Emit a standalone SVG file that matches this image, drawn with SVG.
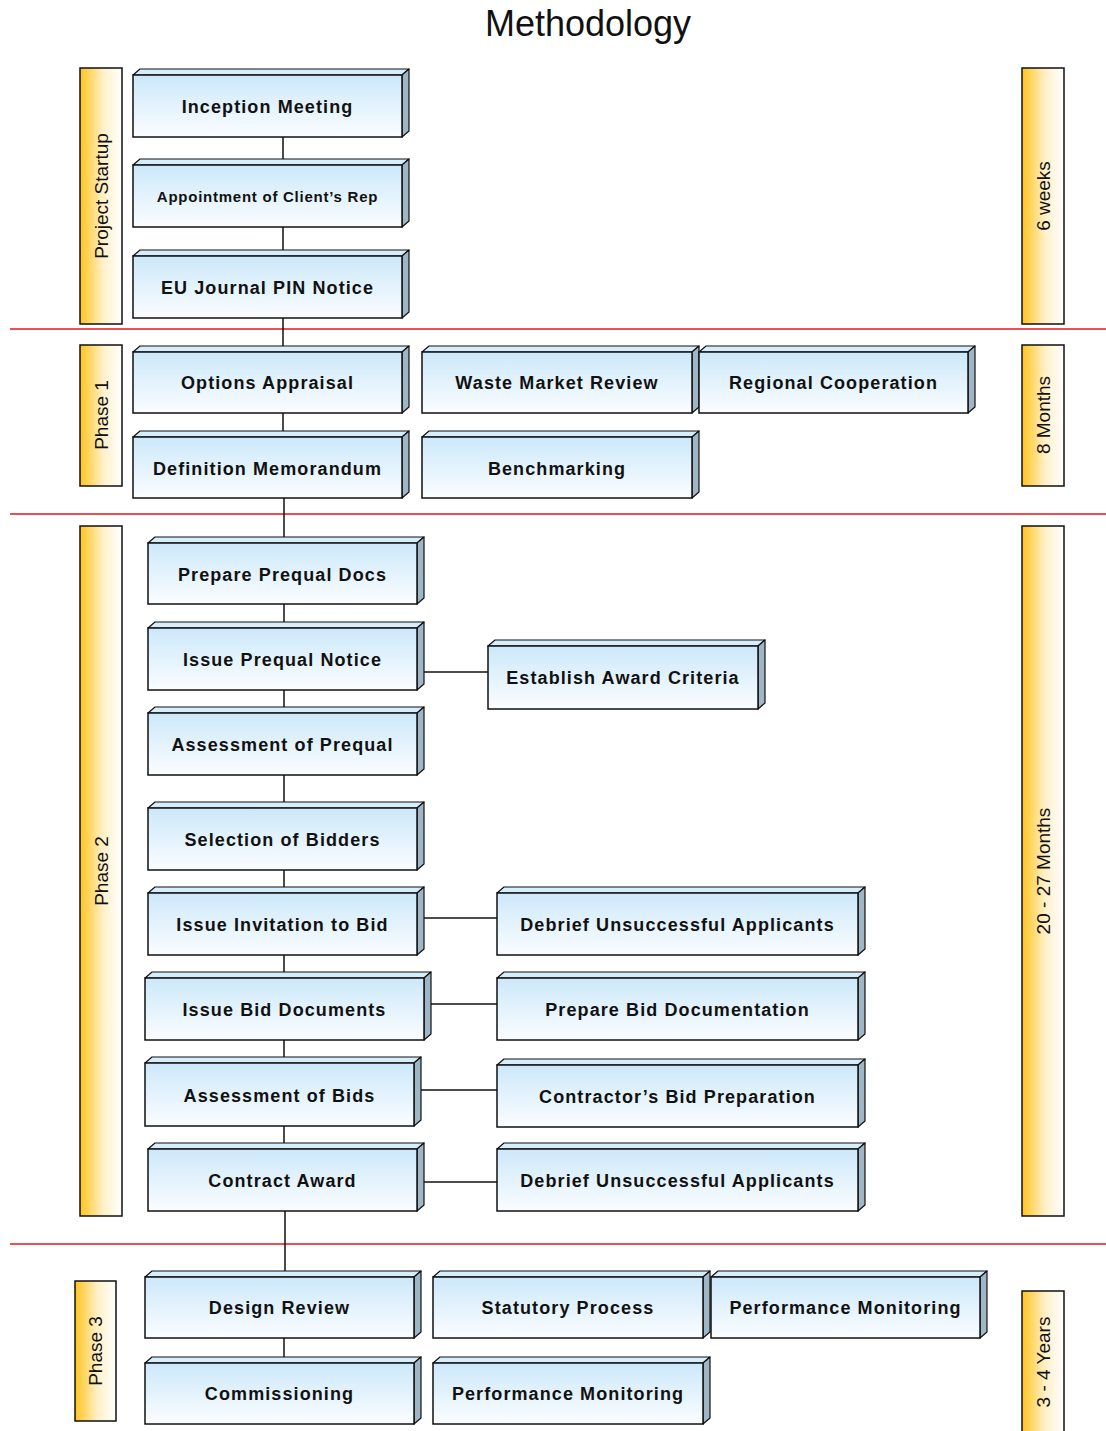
<svg xmlns="http://www.w3.org/2000/svg" width="1106" height="1431" viewBox="0 0 1106 1431">
<defs>
<linearGradient id="gf" x1="0" y1="0" x2="0" y2="1"><stop offset="0" stop-color="#cce8fa"/><stop offset="1" stop-color="#fbfdff"/></linearGradient>
<linearGradient id="gb" x1="0" y1="0" x2="1" y2="0"><stop offset="0" stop-color="#ffc41e"/><stop offset="0.55" stop-color="#fff0c8"/><stop offset="1" stop-color="#ffffff"/></linearGradient>
</defs>
<style>
.f{fill:url(#gf);stroke:#111;stroke-width:1.5}
.t{fill:#d6edfb;stroke:#111;stroke-width:1.2;stroke-linejoin:round}
.s{fill:#9fb6c6;stroke:#111;stroke-width:1.2;stroke-linejoin:round}
.l{font-family:"Liberation Sans",Arial,sans-serif;font-weight:bold;font-size:18px;letter-spacing:1.1px;fill:#111;text-anchor:middle}
.sm{font-size:15px;letter-spacing:0.75px}
.bar{fill:url(#gb);stroke:#111;stroke-width:1.5}
.bt{font-family:"Liberation Sans",Arial,sans-serif;font-size:19px;fill:#111;text-anchor:middle}
.c{stroke:#111;stroke-width:1.5;fill:none}
.r{stroke:#e8141c;stroke-width:1.5}
</style>
<rect width="1106" height="1431" fill="#fff"/>
<text x="588" y="36" font-family="'Liberation Sans',Arial,sans-serif" font-size="36" text-anchor="middle" fill="#111">Methodology</text>

<g id="dividers">
<line class="r" x1="10" y1="329" x2="1106" y2="329"/>
<line class="r" x1="10" y1="514" x2="1106" y2="514"/>
<line class="r" x1="10" y1="1244" x2="1106" y2="1244"/>
</g>

<g id="connectors">
<line class="c" x1="283" y1="137" x2="283" y2="165"/>
<line class="c" x1="283" y1="227" x2="283" y2="256"/>
<line class="c" x1="283" y1="318" x2="283" y2="352"/>
<line class="c" x1="283" y1="413" x2="283" y2="437"/>
<line class="c" x1="284" y1="498" x2="284" y2="543"/>
<line class="c" x1="284" y1="604" x2="284" y2="628"/>
<line class="c" x1="284" y1="690" x2="284" y2="713"/>
<line class="c" x1="284" y1="775" x2="284" y2="808"/>
<line class="c" x1="284" y1="870" x2="284" y2="893"/>
<line class="c" x1="284" y1="955" x2="284" y2="978"/>
<line class="c" x1="284" y1="1040" x2="284" y2="1063"/>
<line class="c" x1="284" y1="1126" x2="284" y2="1149"/>
<line class="c" x1="285" y1="1211" x2="285" y2="1277"/>
<line class="c" x1="284" y1="1338" x2="284" y2="1363"/>
<line class="c" x1="424" y1="672" x2="488" y2="672"/>
<line class="c" x1="424" y1="918" x2="497" y2="918"/>
<line class="c" x1="431" y1="1004" x2="497" y2="1004"/>
<line class="c" x1="421" y1="1090" x2="497" y2="1090"/>
<line class="c" x1="424" y1="1182" x2="497" y2="1182"/>
</g>

<g id="bar-startup"><rect class="bar" x="80" y="68" width="42" height="256"/><text class="bt" transform="translate(108,196) rotate(-90)">Project Startup</text></g>
<g id="bar-6weeks"><rect class="bar" x="1022" y="68" width="42" height="256"/><text class="bt" transform="translate(1050,196) rotate(-90)">6 weeks</text></g>
<g id="bar-phase1"><rect class="bar" x="80" y="345" width="42" height="141"/><text class="bt" transform="translate(108,415) rotate(-90)">Phase 1</text></g>
<g id="bar-8months"><rect class="bar" x="1022" y="345" width="42" height="141"/><text class="bt" transform="translate(1050,415) rotate(-90)">8 Months</text></g>
<g id="bar-phase2"><rect class="bar" x="80" y="526" width="42" height="690"/><text class="bt" transform="translate(108,871) rotate(-90)">Phase 2</text></g>
<g id="bar-2027"><rect class="bar" x="1022" y="526" width="42" height="690"/><text class="bt" transform="translate(1050,871) rotate(-90)">20 - 27 Months</text></g>
<g id="bar-phase3"><rect class="bar" x="75" y="1281" width="41" height="140"/><text class="bt" transform="translate(102,1351) rotate(-90)">Phase 3</text></g>
<g id="bar-34years"><rect class="bar" x="1022" y="1291" width="42" height="150"/><text class="bt" transform="translate(1050,1362) rotate(-90)">3 - 4 Years</text></g>

<g id="n-inception">
<path class="t" d="M133,75 L140,69 L409,69 L402,75 Z"/><path class="s" d="M402,75 L409,69 L409,131 L402,137 Z"/><rect class="f" x="133" y="75" width="269" height="62"/>
<text class="l" x="267.5" y="113">Inception Meeting</text></g>
<g id="n-appointment">
<path class="t" d="M133,165 L140,159 L409,159 L402,165 Z"/><path class="s" d="M402,165 L409,159 L409,221 L402,227 Z"/><rect class="f" x="133" y="165" width="269" height="62"/>
<text class="l sm" x="267.5" y="202">Appointment of Client’s Rep</text></g>
<g id="n-eujournal">
<path class="t" d="M133,256 L140,250 L409,250 L402,256 Z"/><path class="s" d="M402,256 L409,250 L409,312 L402,318 Z"/><rect class="f" x="133" y="256" width="269" height="62"/>
<text class="l" x="267.5" y="294">EU Journal PIN Notice</text></g>

<g id="n-options">
<path class="t" d="M133,352 L140,346 L409,346 L402,352 Z"/><path class="s" d="M402,352 L409,346 L409,407 L402,413 Z"/><rect class="f" x="133" y="352" width="269" height="61"/>
<text class="l" x="267.5" y="389">Options Appraisal</text></g>
<g id="n-waste">
<path class="t" d="M422,352 L429,346 L699,346 L692,352 Z"/><path class="s" d="M692,352 L699,346 L699,407 L692,413 Z"/><rect class="f" x="422" y="352" width="270" height="61"/>
<text class="l" x="557" y="389">Waste Market Review</text></g>
<g id="n-regional">
<path class="t" d="M699,352 L706,346 L975,346 L968,352 Z"/><path class="s" d="M968,352 L975,346 L975,407 L968,413 Z"/><rect class="f" x="699" y="352" width="269" height="61"/>
<text class="l" x="833.5" y="389">Regional Cooperation</text></g>
<g id="n-definition">
<path class="t" d="M133,437 L140,431 L409,431 L402,437 Z"/><path class="s" d="M402,437 L409,431 L409,492 L402,498 Z"/><rect class="f" x="133" y="437" width="269" height="61"/>
<text class="l" x="267.5" y="475">Definition Memorandum</text></g>
<g id="n-benchmarking">
<path class="t" d="M422,437 L429,431 L699,431 L692,437 Z"/><path class="s" d="M692,437 L699,431 L699,492 L692,498 Z"/><rect class="f" x="422" y="437" width="270" height="61"/>
<text class="l" x="557" y="475">Benchmarking</text></g>

<g id="n-prepare-prequal">
<path class="t" d="M148,543 L155,537 L424,537 L417,543 Z"/><path class="s" d="M417,543 L424,537 L424,598 L417,604 Z"/><rect class="f" x="148" y="543" width="269" height="61"/>
<text class="l" x="282.5" y="581">Prepare Prequal Docs</text></g>
<g id="n-issue-prequal">
<path class="t" d="M148,628 L155,622 L424,622 L417,628 Z"/><path class="s" d="M417,628 L424,622 L424,684 L417,690 Z"/><rect class="f" x="148" y="628" width="269" height="62"/>
<text class="l" x="282.5" y="666">Issue Prequal Notice</text></g>
<g id="n-award-criteria">
<path class="t" d="M488,646 L495,640 L765,640 L758,646 Z"/><path class="s" d="M758,646 L765,640 L765,703 L758,709 Z"/><rect class="f" x="488" y="646" width="270" height="63"/>
<text class="l" x="623" y="684">Establish Award Criteria</text></g>
<g id="n-assess-prequal">
<path class="t" d="M148,713 L155,707 L424,707 L417,713 Z"/><path class="s" d="M417,713 L424,707 L424,769 L417,775 Z"/><rect class="f" x="148" y="713" width="269" height="62"/>
<text class="l" x="282.5" y="751">Assessment of Prequal</text></g>
<g id="n-selection">
<path class="t" d="M148,808 L155,802 L424,802 L417,808 Z"/><path class="s" d="M417,808 L424,802 L424,864 L417,870 Z"/><rect class="f" x="148" y="808" width="269" height="62"/>
<text class="l" x="282.5" y="846">Selection of Bidders</text></g>
<g id="n-invitation">
<path class="t" d="M148,893 L155,887 L424,887 L417,893 Z"/><path class="s" d="M417,893 L424,887 L424,949 L417,955 Z"/><rect class="f" x="148" y="893" width="269" height="62"/>
<text class="l" x="282.5" y="931">Issue Invitation to Bid</text></g>
<g id="n-debrief1">
<path class="t" d="M497,893 L504,887 L865,887 L858,893 Z"/><path class="s" d="M858,893 L865,887 L865,949 L858,955 Z"/><rect class="f" x="497" y="893" width="361" height="62"/>
<text class="l" x="677.5" y="931">Debrief Unsuccessful Applicants</text></g>
<g id="n-bid-docs">
<path class="t" d="M145,978 L152,972 L431,972 L424,978 Z"/><path class="s" d="M424,978 L431,972 L431,1034 L424,1040 Z"/><rect class="f" x="145" y="978" width="279" height="62"/>
<text class="l" x="284.5" y="1016">Issue Bid Documents</text></g>
<g id="n-prep-bid-doc">
<path class="t" d="M497,978 L504,972 L865,972 L858,978 Z"/><path class="s" d="M858,978 L865,972 L865,1034 L858,1040 Z"/><rect class="f" x="497" y="978" width="361" height="62"/>
<text class="l" x="677.5" y="1016">Prepare Bid Documentation</text></g>
<g id="n-assess-bids">
<path class="t" d="M145,1063 L152,1057 L421,1057 L414,1063 Z"/><path class="s" d="M414,1063 L421,1057 L421,1120 L414,1126 Z"/><rect class="f" x="145" y="1063" width="269" height="63"/>
<text class="l" x="279.5" y="1102">Assessment of Bids</text></g>
<g id="n-contractor-bid">
<path class="t" d="M497,1065 L504,1059 L865,1059 L858,1065 Z"/><path class="s" d="M858,1065 L865,1059 L865,1121 L858,1127 Z"/><rect class="f" x="497" y="1065" width="361" height="62"/>
<text class="l" x="677.5" y="1103">Contractor’s Bid Preparation</text></g>
<g id="n-contract-award">
<path class="t" d="M148,1149 L155,1143 L424,1143 L417,1149 Z"/><path class="s" d="M417,1149 L424,1143 L424,1205 L417,1211 Z"/><rect class="f" x="148" y="1149" width="269" height="62"/>
<text class="l" x="282.5" y="1187">Contract Award</text></g>
<g id="n-debrief2">
<path class="t" d="M497,1149 L504,1143 L865,1143 L858,1149 Z"/><path class="s" d="M858,1149 L865,1143 L865,1205 L858,1211 Z"/><rect class="f" x="497" y="1149" width="361" height="62"/>
<text class="l" x="677.5" y="1187">Debrief Unsuccessful Applicants</text></g>

<g id="n-design-review">
<path class="t" d="M145,1277 L152,1271 L421,1271 L414,1277 Z"/><path class="s" d="M414,1277 L421,1271 L421,1332 L414,1338 Z"/><rect class="f" x="145" y="1277" width="269" height="61"/>
<text class="l" x="279.5" y="1314">Design Review</text></g>
<g id="n-statutory">
<path class="t" d="M433,1277 L440,1271 L710,1271 L703,1277 Z"/><path class="s" d="M703,1277 L710,1271 L710,1332 L703,1338 Z"/><rect class="f" x="433" y="1277" width="270" height="61"/>
<text class="l" x="568" y="1314">Statutory Process</text></g>
<g id="n-perf1">
<path class="t" d="M711,1277 L718,1271 L987,1271 L980,1277 Z"/><path class="s" d="M980,1277 L987,1271 L987,1332 L980,1338 Z"/><rect class="f" x="711" y="1277" width="269" height="61"/>
<text class="l" x="845.5" y="1314">Performance Monitoring</text></g>
<g id="n-commissioning">
<path class="t" d="M145,1363 L152,1357 L421,1357 L414,1363 Z"/><path class="s" d="M414,1363 L421,1357 L421,1418 L414,1424 Z"/><rect class="f" x="145" y="1363" width="269" height="61"/>
<text class="l" x="279.5" y="1400">Commissioning</text></g>
<g id="n-perf2">
<path class="t" d="M433,1363 L440,1357 L710,1357 L703,1363 Z"/><path class="s" d="M703,1363 L710,1357 L710,1418 L703,1424 Z"/><rect class="f" x="433" y="1363" width="270" height="61"/>
<text class="l" x="568" y="1400">Performance Monitoring</text></g>
</svg>
